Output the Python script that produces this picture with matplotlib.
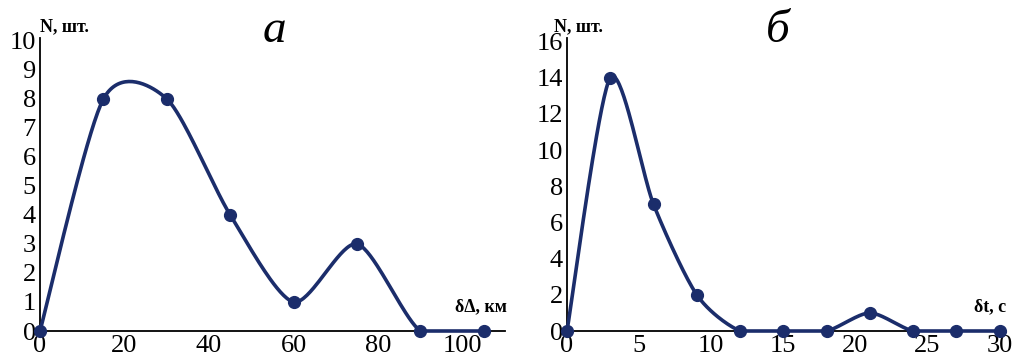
import numpy as np
import matplotlib
matplotlib.use("Agg")
import matplotlib.pyplot as plt

plt.rcParams['font.family'] = ['Liberation Serif', 'DejaVu Serif']

# panel a: distance error distribution
dist_x = [0, 15, 30, 45, 60, 75, 90, 105]
dist_n = [0, 8, 8, 4, 1, 3, 0, 0]
dist_xticks = [0, 20, 40, 60, 80, 100]
dist_yticks = list(range(0, 11))

# panel b: time error distribution
time_x = [0, 3, 6, 9, 12, 15, 18, 21, 24, 27, 30]
time_n = [0, 14, 7, 2, 0, 0, 0, 1, 0, 0, 0]
time_xticks = [0, 5, 10, 15, 20, 25, 30]
time_yticks = list(range(0, 17, 2))

COLOR = '#1b2d6b'


def smooth(xs, ys, k=0.13, steps=40):
    # excel-like bezier smoothing through points
    p = np.column_stack([xs, ys]).astype(float)
    n = len(p)
    out = [p[0]]
    t = np.linspace(0, 1, steps)[1:, None]
    for i in range(n - 1):
        p0 = p[i - 1] if i > 0 else p[i]
        p3 = p[i + 2] if i + 2 < n else p[i + 1]
        c1 = p[i] + (p[i + 1] - p0) * k
        c2 = p[i + 1] - (p3 - p[i]) * k
        seg = ((1 - t) ** 3) * p[i] + 3 * ((1 - t) ** 2) * t * c1 + 3 * (1 - t) * t ** 2 * c2 + t ** 3 * p[i + 1]
        out.extend(seg)
    out = np.array(out)
    return out[:, 0], out[:, 1]


def draw(ax, xs, ys, xlim, ylim, xticks, yticks, xlabel, letter, letter_x, nlab_x):
    sx, sy = smooth(xs, ys)
    sy = np.maximum(sy, 0)
    ax.plot(sx, sy, color=COLOR, lw=2.6, clip_on=False, zorder=3)
    ax.plot(xs, ys, 'o', color=COLOR, ms=8.5, clip_on=False, zorder=4)
    ax.set_xlim(*xlim)
    ax.set_ylim(*ylim)
    ax.set_xticks(xticks)
    ax.set_yticks(yticks)
    ax.tick_params(length=0, labelsize=19, pad=3)
    for s in ['top', 'right']:
        ax.spines[s].set_visible(False)
    for s in ['left', 'bottom']:
        ax.spines[s].set_linewidth(1.3)
    ax.text(nlab_x, 1.01, 'N, шт.', transform=ax.transAxes, fontsize=13,
            fontweight='bold', ha='left', va='bottom')
    ax.text(1.005, 0.055, xlabel, transform=ax.transAxes, fontsize=13,
            fontweight='bold', ha='right', va='bottom')
    ax.text(letter_x, 0.985, letter, transform=ax.transAxes, fontsize=34,
            style='italic', ha='center', va='baseline')


fig = plt.figure(figsize=(10.13, 3.6), dpi=100)
ax1 = fig.add_axes([40 / 1013, 29 / 360, 465 / 1013, 293 / 360])
ax2 = fig.add_axes([567 / 1013, 29 / 360, 437 / 1013, 293 / 360])

draw(ax1, dist_x, dist_n, (0, 110), (0, 10.1), dist_xticks, dist_yticks,
     'δΔ, км', 'а', 0.505, 0.0)
draw(ax2, time_x, time_n, (0, 30.3), (0, 16.2), time_xticks, time_yticks,
     'δt, с', 'б', 0.483, -0.03)

fig.savefig('out.png', dpi=100)
